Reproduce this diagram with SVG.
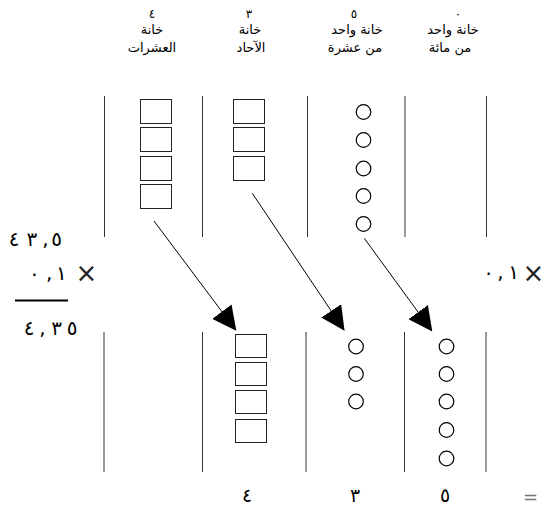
<svg xmlns="http://www.w3.org/2000/svg" width="548" height="506" viewBox="0 0 548 506">
<style>
.bg{fill:#fff}
.col{stroke:#333;stroke-width:1;fill:none}
.sq{stroke:#222;stroke-width:1;fill:#fff}
.ci{stroke:#000;stroke-width:1.2;fill:#fff}
.ar{font-family:"DejaVu Sans",sans-serif;font-size:13px;fill:#000;text-anchor:middle}
.hd{font-family:"DejaVu Sans",sans-serif;font-size:12px;fill:#000;text-anchor:middle}
.num{font-family:"DejaVu Sans",sans-serif;font-size:20px;fill:#000;direction:ltr;unicode-bidi:bidi-override}
.bot{font-family:"DejaVu Sans",sans-serif;font-size:19px;fill:#000;text-anchor:middle}
.op{font-family:"DejaVu Sans",sans-serif;font-size:26px;fill:#222}
.eq{font-family:"DejaVu Sans",sans-serif;font-size:18px;fill:#777}
.conn{stroke:#000;stroke-width:1;fill:none;marker-end:url(#ah)}
</style>
<defs>
<marker id="ah" markerUnits="userSpaceOnUse" markerWidth="24" markerHeight="24" viewBox="0 0 23 23" refX="22" refY="11.5" orient="auto">
<path d="M0,0 L23,11.5 L0,23 z" fill="#000"/>
</marker>
</defs>
<rect class="bg" x="0" y="0" width="548" height="506"/>

<g id="headers">
<text class="hd" x="152" y="18">٤</text>
<text class="hd" x="249" y="18">٣</text>
<text class="hd" x="354" y="18">٥</text>
<text class="hd" x="458" y="18">٠</text>
<text class="ar" x="152" y="34">خانة</text>
<text class="ar" x="152" y="52">العشرات</text>
<text class="ar" x="250" y="34">خانة</text>
<text class="ar" x="251" y="52">الآحاد</text>
<text class="ar" x="357" y="34">خانة واحد</text>
<text class="ar" x="355" y="52">من عشرة</text>
<text class="ar" x="453" y="34">خانة واحد</text>
<text class="ar" x="450" y="52">من مائة</text>
</g>

<g id="top-columns">
<line class="col" x1="104.5" y1="96" x2="104.5" y2="237"/>
<line class="col" x1="202.5" y1="96" x2="202.5" y2="237"/>
<line class="col" x1="307.5" y1="96" x2="307.5" y2="237"/>
<line class="col" x1="405" y1="96" x2="405" y2="237"/>
<line class="col" x1="486.5" y1="96" x2="486.5" y2="237"/>
</g>

<g id="top-tens">
<rect class="sq" x="140.5" y="99.5" width="31" height="24"/>
<rect class="sq" x="140.5" y="127.5" width="31" height="24"/>
<rect class="sq" x="140.5" y="156.5" width="31" height="24"/>
<rect class="sq" x="140.5" y="184.5" width="31" height="24"/>
</g>
<g id="top-ones">
<rect class="sq" x="233.5" y="99.5" width="31" height="24"/>
<rect class="sq" x="233.5" y="127.5" width="31" height="24"/>
<rect class="sq" x="233.5" y="156.5" width="31" height="24"/>
</g>
<g id="top-tenths">
<circle class="ci" cx="363.5" cy="112" r="7.3"/>
<circle class="ci" cx="363.5" cy="140" r="7.3"/>
<circle class="ci" cx="363.5" cy="168.5" r="7.3"/>
<circle class="ci" cx="363.5" cy="196" r="7.3"/>
<circle class="ci" cx="363.5" cy="224" r="7.3"/>
</g>

<g id="bottom-columns">
<line class="col" x1="104" y1="332" x2="104" y2="472"/>
<line class="col" x1="202.5" y1="332" x2="202.5" y2="472"/>
<line class="col" x1="306" y1="332" x2="306" y2="472"/>
<line class="col" x1="404.5" y1="332" x2="404.5" y2="472"/>
<line class="col" x1="486" y1="332" x2="486" y2="472"/>
</g>

<g id="bottom-ones">
<rect class="sq" x="235.5" y="334.5" width="31" height="23"/>
<rect class="sq" x="235.5" y="362.5" width="31" height="23"/>
<rect class="sq" x="235.5" y="390.5" width="31" height="23"/>
<rect class="sq" x="235.5" y="419.5" width="31" height="23"/>
</g>
<g id="bottom-tenths">
<circle class="ci" cx="356" cy="346.5" r="7.3"/>
<circle class="ci" cx="356" cy="374" r="7.3"/>
<circle class="ci" cx="356" cy="401.5" r="7.3"/>
</g>
<g id="bottom-hundredths">
<circle class="ci" cx="446.5" cy="346.5" r="7.3"/>
<circle class="ci" cx="446.5" cy="374" r="7.3"/>
<circle class="ci" cx="446.5" cy="401.5" r="7.3"/>
<circle class="ci" cx="446.5" cy="430" r="7.3"/>
<circle class="ci" cx="446.5" cy="458.5" r="7.3"/>
</g>

<g id="connectors">
<line class="conn" x1="154" y1="221" x2="235.7" y2="330"/>
<line class="conn" x1="252.3" y1="193.3" x2="344" y2="330"/>
<line class="conn" x1="364.3" y1="238.3" x2="431.7" y2="330.7"/>
</g>

<g id="calculation">
<text class="num" x="8.7 26.5 42.3 51.2" y="246">٤٣,٥</text>
<text class="num" x="29 46 56" y="280">٠,١</text>
<text class="op" x="75.6" y="282">×</text>
<line x1="15" y1="300.5" x2="68" y2="300.5" stroke="#000" stroke-width="2"/>
<text class="num" x="23.7 39.3 51.2 66.7" y="335">٤,٣٥</text>
<text class="num" x="483.2 497.3 508.2" y="279">٠,١</text>
<text class="op" x="522.6" y="282">×</text>
</g>

<g id="result">
<text class="bot" x="247" y="502">٤</text>
<text class="bot" x="355" y="502">٣</text>
<text class="bot" x="445" y="502">٥</text>
<text class="eq" x="523" y="503">=</text>
</g>
</svg>
